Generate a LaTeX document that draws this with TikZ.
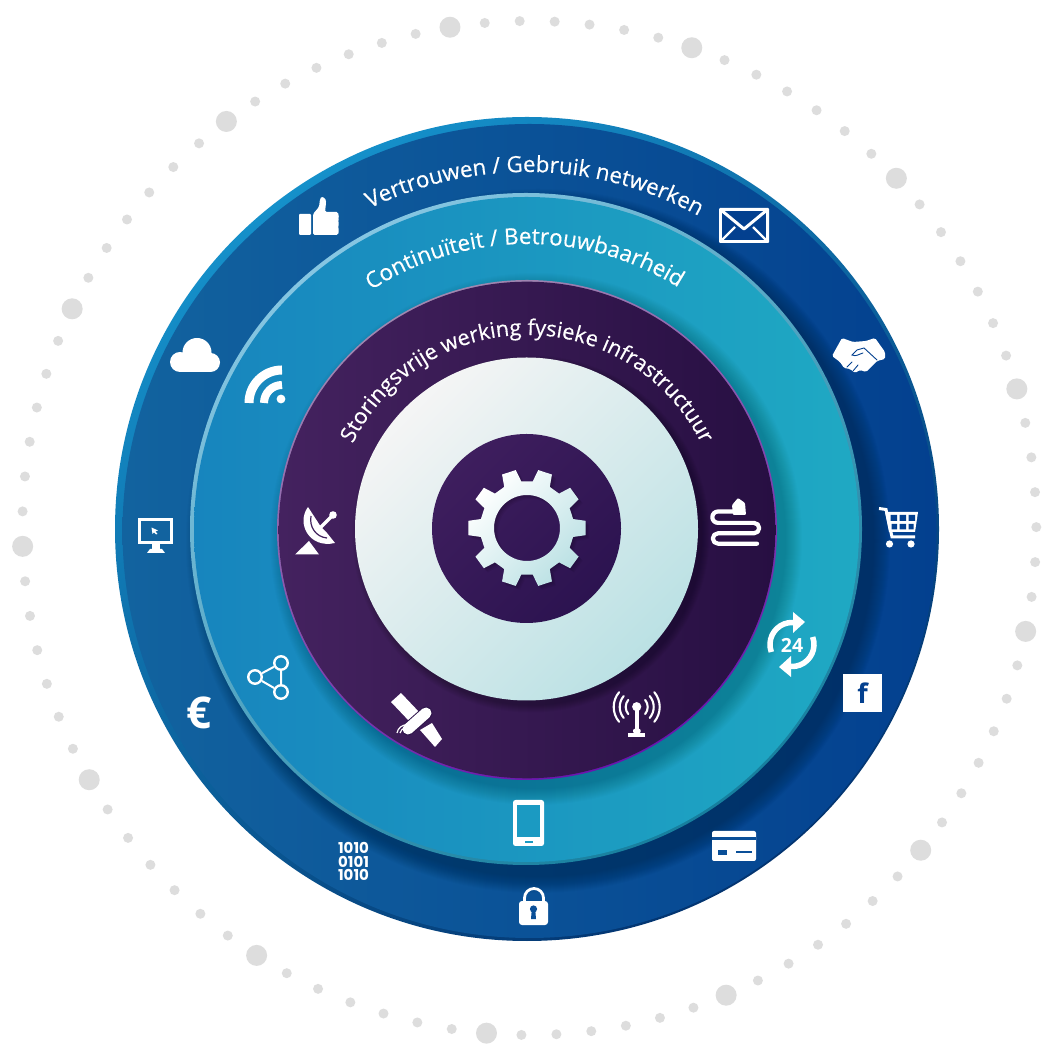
\documentclass[tikz,border=0pt]{standalone}
\usepackage{fontspec}
\setmainfont{Open Sans}
\newfontfamily\labelfont[FakeBold=0.45]{Open Sans}
\newfontfamily\digitfont{Poppins}
\usetikzlibrary{decorations.text,calc}
\definecolor{dotgray}{HTML}{DDDDDD}
\definecolor{outerL}{HTML}{12639F}
\definecolor{outerR}{HTML}{03408F}
\definecolor{outerRimA}{HTML}{1590CA}
\definecolor{outerRimB}{HTML}{0F72AE}
\definecolor{outerRimC}{HTML}{033470}
\definecolor{tealL}{HTML}{1785BE}
\definecolor{tealR}{HTML}{1FA9C3}
\definecolor{tealRimA}{HTML}{86C6E2}
\definecolor{tealRimB}{HTML}{5AB8D2}
\definecolor{tealRimC}{HTML}{167F9E}
\definecolor{purpL}{HTML}{44225F}
\definecolor{purpR}{HTML}{270F42}
\definecolor{purpRimA}{HTML}{A088B0}
\definecolor{purpRimB}{HTML}{5E4880}
\definecolor{purpRimC}{HTML}{6A14AE}
\definecolor{paleA}{HTML}{F5F5F5}
\definecolor{paleM}{HTML}{E6F0F1}
\definecolor{paleB}{HTML}{BBE1E4}
\definecolor{hubA}{HTML}{3E1E5E}
\definecolor{hubB}{HTML}{2C1350}
\definecolor{iconBlueR}{HTML}{03408F}
\definecolor{iconBlueM}{HTML}{0A4F98}
\definecolor{iconPurp}{HTML}{2F154C}
\definecolor{iconPurpL}{HTML}{40205C}
\definecolor{iconTeal}{HTML}{1B9AC2}
\newcommand\softshadow[5]{\foreach \i in {0,...,#4}{\fill[black,opacity=#5] ({#1},{#2}) circle ({#3+\i});}}
\tikzset{
  px/.style={shift={(0pt,1046pt)},yscale=-1},
  icon/.style={fill=white,draw=none},
  stroke/.style={draw=white,line width=#1,fill=none},
  netdot/.style={circle,draw=white,line width=2.4pt,fill=none,minimum size=13.5pt,inner sep=0pt},
  gearoutline/.style={insert path={
    (-11:47) \foreach \a in {0,36,...,324}{ -- ({\a-11}:47) -- ({\a-7}:59) -- ({\a+7}:59) -- ({\a+11}:47) } -- cycle
    (33,0) arc[start angle=0,end angle=360,radius=33]}},
}
\begin{document}
\begin{tikzpicture}[x=1pt,y=1pt]
\useasboundingbox (0,0) rectangle (1048,1046);
\fill[white] (0,0) rectangle (1048,1046);
\begin{scope}[px]
% ring of dots
\foreach \i in {0,...,90}{
  \pgfmathsetmacro\ang{-99+\i*3.956044}
  \pgfmathtruncatemacro\big{mod(\i,7)==0}
  \ifnum\big=1
    \fill[dotgray] ({529.3+507*cos(\ang)},{528+507*sin(\ang)}) circle (10.5);
  \else
    \fill[dotgray] ({529.3+507*cos(\ang)},{528+507*sin(\ang)}) circle (5);
  \fi
}
% outer disc
\shade[top color=outerRimA,middle color=outerRimB,bottom color=outerRimC,shading angle=35] (527,529) circle (412);
\shade[left color=outerL,right color=outerR] (529.5,531) circle (407);
\softshadow{538}{541}{336}{16}{.017}
% teal disc
\shade[top color=tealRimA,middle color=tealRimB,bottom color=tealRimC,shading angle=35] (526,529) circle (336);
\shade[left color=tealL,right color=tealR] (526.5,529.5) circle (332.5);
\softshadow{536}{539}{250}{16}{.012}
% purple disc
\shade[top color=purpRimA,middle color=purpRimB,bottom color=purpRimC,shading angle=25] (527,530) circle (250);
\shade[left color=purpL,right color=purpR] (527,530) circle (248.3);
\softshadow{531}{534}{171.5}{7}{.03}
% pale disc
\shade[top color=paleA,middle color=paleM,bottom color=paleB,shading angle=45] (526.5,529) circle (171.5);
% hub
\shade[top color=hubA,bottom color=hubB,shading angle=45] (526.5,528.5) circle (94.5);
% gear
\begin{scope}[shift={(527,528)}]
  \foreach \o in {4,3,2,1}{
    \begin{scope}[shift={(\o,\o)}]
      \fill[black,opacity=.05,even odd rule,gearoutline];
    \end{scope}}
  \shade[top color=white,middle color=paleM,bottom color=paleB,shading angle=45,even odd rule,gearoutline];
\end{scope}

% thumb
\fill[icon,rounded corners=1] (299,214) rectangle (311,235);
\fill[icon,rounded corners=1.5] (313,235) -- (313,214) -- (319,207) -- (320,199) .. controls (322,196) and (326,198) .. (326,203) -- (325,212) -- (338,212) -- (339,218) -- (338,220) -- (339,224) -- (338,227) -- (339,230) -- (338,235) -- cycle;
% envelope
\fill[icon,rounded corners=1] (719,208) rectangle (769,243);
\fill[iconBlueR] (722,211) rectangle (766,240);
\draw[stroke=3pt,line join=round] (721,210) -- (744,229) -- (767,210);
\draw[stroke=2.4pt] (721,241) -- (735,227);
\draw[stroke=2.4pt] (767,241) -- (753,227);
% handshake
\fill[icon,rounded corners=1.5] (832,356) -- (842,338) -- (853,342) -- (866,341) -- (875,338) -- (885,352) -- (885,359) -- (877,361) -- (866,372) -- (860,370) -- (855,373) -- (850,369) -- (844,368) -- (840,362) -- cycle;
\draw[iconBlueR,line width=.9pt,fill=none,line cap=round] (877,360) -- (864,348) -- (857,350) -- (852,355) .. controls (856,357) and (859,354) .. (863,353);
\draw[iconBlueR,line width=.9pt,fill=none,line cap=round] (847,367) -- (852,362) (853,371) -- (858,365);
% cart
\draw[stroke=3pt] (879,508.5) -- (886,509.5) -- (892,537) -- (915,537);
\fill[icon] (885,512) -- (918,512) -- (915,532) -- (889,532) -- cycle;
\fill[iconBlueR] (890.5,515) rectangle (897,521) (899.5,515) rectangle (906,521) (908.5,515) rectangle (915,521);
\fill[iconBlueR] (891.5,524) rectangle (897,529.5) (899.5,524) rectangle (906,529.5) (908.5,524) rectangle (913.5,529.5);
\fill[icon] (889.5,544) circle (3.6) (911,544) circle (3.6);
% facebook
\fill[icon] (843,674) rectangle (882,712);
\node[text=iconBlueR,font=\fontsize{27}{27}\selectfont\bfseries,inner sep=0pt] (fb) at (862.5,693) {f};
% card
\fill[icon,rounded corners=2] (712,831) rectangle (756,861);
\fill[iconBlueM] (712,837) rectangle (756,840.5);
\fill[iconBlueM] (718,850) rectangle (727,855.5);
\fill[iconBlueM] (736,851.5) rectangle (752,853.5);
% lock
\draw[stroke=2.8pt] (524.5,903) -- (524.5,898) arc[start angle=180,end angle=360,radius=9.5] -- (543.5,903);
\fill[icon,rounded corners=3] (519,901) rectangle (548,925);
\fill[iconBlueM] (533.5,909) circle (3.6);
\fill[iconBlueM] (531.8,909) -- (535.2,909) -- (536,919) -- (531,919) -- cycle;
% binary
\node[text=white,font=\digitfont\fontsize{15}{13.3}\selectfont\bfseries,align=center,inner sep=0pt] (bin) at (353.5,861.5) {1010\\0101\\1010};
% phone
\fill[icon,rounded corners=2.5] (513,800) rectangle (544,846);
\fill[iconTeal] (517,805) rectangle (540,837.5);
\fill[iconTeal] (525,841) rectangle (533,843);
% satellite
\fill[icon] (391,702) -- (401,693) -- (420,713) -- (410,722) -- cycle;
\fill[icon] (420,730) -- (432,723) -- (442,739) -- (435,747) -- cycle;
\draw[iconPurp,line width=13pt,line cap=round] (408,729) -- (426,713);
\draw[white,line width=11pt,line cap=round] (408,729) -- (426,713);
\draw[stroke=1.2pt] (397,733) arc[start angle=190,end angle=270,radius=10];
\draw[stroke=1.2pt] (400,733) arc[start angle=190,end angle=270,radius=6];
% antenna
\fill[icon] (636.7,706.7) circle (4.6);
\fill[icon] (635,708) rectangle (638.5,732);
\fill[icon,rounded corners=1] (633,729) rectangle (640.5,733);
\fill[icon] (628,733) rectangle (645,737);
\foreach \r in {11,17,23}{
  \draw[stroke=2.1pt,line cap=round] ({636.7+\r*cos(140)},{707+\r*sin(140)}) arc[start angle=140,end angle=220,radius=\r];
  \draw[stroke=2.1pt,line cap=round] ({636.7+\r*cos(-40)},{707+\r*sin(-40)}) arc[start angle=-40,end angle=40,radius=\r];
}
% 24 cycle
\draw[stroke=5.5pt] ({792+22*cos(160)},{644.5+22*sin(160)}) arc[start angle=160,end angle=285,radius=22];
\fill[icon] (793,612) -- (805,622) -- (793,633) -- cycle;
\draw[stroke=5.5pt] ({792+22*cos(340)},{644.5+22*sin(340)}) arc[start angle=340,end angle=465,radius=22];
\fill[icon] (791,677) -- (779,667) -- (791,656) -- cycle;
\node[text=white,font=\fontsize{19.5}{20}\selectfont\bfseries,inner sep=0pt] (tf) at (792,645) {24};
% cable
\fill[icon,rounded corners=1] (732,505) -- (738,498) -- (745,503) -- (746,515) -- (733,515) -- cycle;
\draw[stroke=4.2pt,line join=round,line cap=round] (734,511.5) -- (718,511.5) arc[start angle=270,end angle=90,radius=5.7] -- (754,522.9) arc[start angle=-90,end angle=90,radius=5.2] -- (718,533.3) arc[start angle=270,end angle=90,radius=5.2] -- (757,543.7);
% dish
\fill[icon] (308,507) .. controls (296,523) and (309,549) .. (335,543) -- (327,533) -- (321,527) -- cycle;
\draw[iconPurpL,line width=1.2pt,fill=none] (311,516) .. controls (309,527) and (316,537) .. (327,538);
\draw[stroke=3.4pt] (319,529) -- (331,517);
\fill[icon] (333,515) circle (3.8);
\fill[icon] (295,554.5) -- (309,541) -- (319,554.5) -- cycle;
% wifi
\draw[stroke=9pt] (249,403) arc[start angle=180,end angle=270,radius=33];
\draw[stroke=8pt] (264,403) arc[start angle=180,end angle=270,radius=18];
\fill[icon] (281,399) circle (4.4);
% cloud
\fill[icon] (180,362) circle (10) (197,352.5) circle (14.5) (210.5,362.5) circle (9.5);
\fill[icon] (180,360) rectangle (211,372);
% monitor
\fill[icon] (138,518) rectangle (173,544);
\fill[outerL] (141,521) rectangle (170,541);
\fill[icon] (152,544) rectangle (160,549);
\fill[icon] (147,553) -- (150,549) -- (162,549) -- (165,553) -- cycle;
\fill[icon] (151.5,527.5) -- (158,530.5) -- (155.5,531.5) -- (157.5,534) -- (156,534.5) -- (154,532.5) -- (152.5,534) -- cycle;
% network
\node[netdot] (na) at (281,663) {};
\node[netdot] (nb) at (255,677) {};
\node[netdot] (nc) at (281,692) {};
\draw[white,line width=2pt] (na) -- (nb) (nb) -- (nc) (nc) -- (na);
% euro
\node[text=white,font=\fontsize{44}{44}\selectfont\bfseries,inner sep=0pt] (eu) at (199,713) {€};
\end{scope}
% curved labels
\coordinate (ctr) at (527,517);
\path[decorate,decoration={text along path,text align=center,text={|\labelfont\fontsize{22.3}{26}\selectfont\color{white}|Vertrouwen / Gebruik netwerken}}]
  ($(ctr)+(148.7:357)$) arc[start angle=148.7,end angle=28.7,radius=357];
\path[decorate,decoration={text along path,text align=center,text={|\labelfont\fontsize{22.4}{26}\selectfont\color{white}|Continuïteit / Betrouwbaarheid}}]
  ($(ctr)+(150.5:285)$) arc[start angle=150.5,end angle=30.5,radius=285];
\path[decorate,decoration={text along path,text align=center,text={|\labelfont\fontsize{21.7}{24}\selectfont\color{white}|Storingsvrije werking fysieke infrastructuur}}]
  ($(ctr)+(175:194)$) arc[start angle=175,end angle=5,radius=194];
\end{tikzpicture}
\end{document}
